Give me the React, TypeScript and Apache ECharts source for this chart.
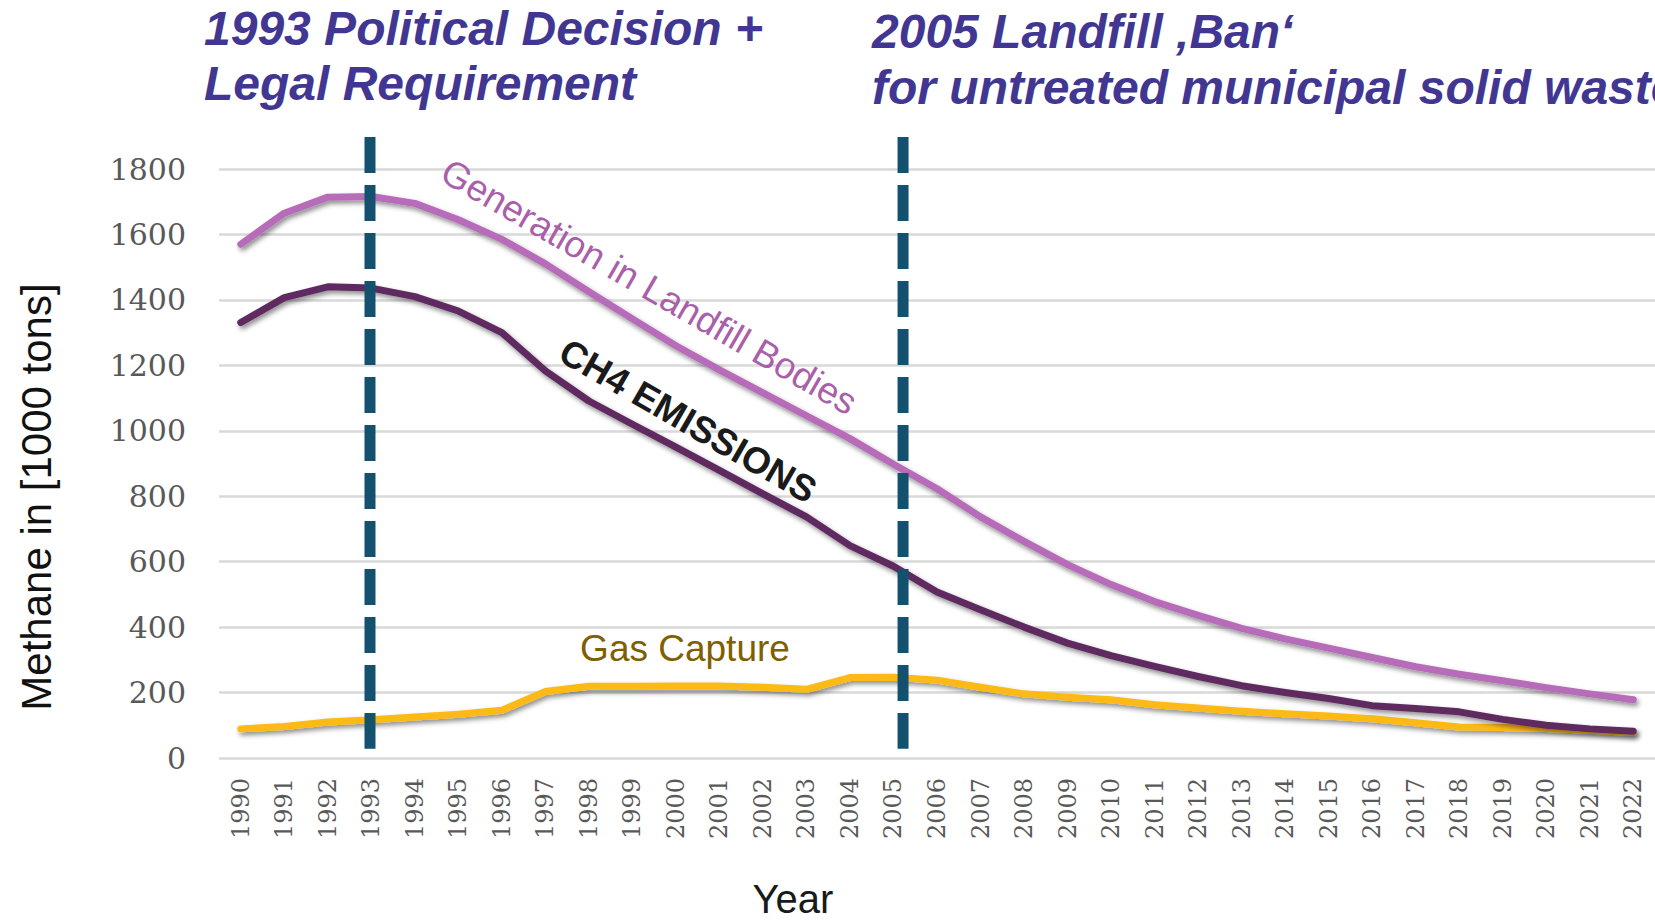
import React, { useEffect, useRef } from 'react';
import * as echarts from 'echarts';

const years = [
  '1990', '1991', '1992', '1993', '1994', '1995', '1996', '1997', '1998', '1999',
  '2000', '2001', '2002', '2003', '2004', '2005', '2006', '2007', '2008', '2009',
  '2010', '2011', '2012', '2013', '2014', '2015', '2016', '2017', '2018', '2019',
  '2020', '2021', '2022',
];

const generation = [
  1570, 1665, 1714, 1716, 1695, 1645, 1585, 1510, 1425, 1342,
  1260, 1186, 1116, 1046, 976, 898, 823, 737, 662, 591,
  530, 478, 436, 396, 364, 336, 307, 279, 256, 236,
  215, 196, 178,
];

const ch4Emissions = [
  1331, 1407, 1440, 1436, 1410, 1366, 1300, 1183, 1091, 1020,
  950, 879, 807, 737, 649, 586, 507, 453, 400, 351,
  313, 280, 249, 221, 200, 182, 160, 151, 141, 118,
  100, 89, 82,
];

const gasCapture = [
  89, 96, 110, 117, 125, 134, 146, 203, 219, 219,
  220, 220, 216, 210, 246, 247, 238, 216, 196, 186,
  178, 163, 153, 143, 135, 128, 120, 108, 95, 93,
  90, 85, 78,
];

const yMin = 0;
const yMax = 1800;
const yInterval = 200;

// Policy milestones marked by dashed vertical lines: [year, top value, bottom value]
const milestones: [string, number, number][] = [
  ['1993', 1898, 28],
  ['2005', 1898, 28],
];
const milestoneNudge = [-0.03, 0.22]; // fraction of a category band

const titleLeft = ['1993 Political Decision +', 'Legal Requirement'];
const titleRight = ['2005 Landfill \u201ABan\u2018', 'for untreated municipal solid waste'];

export default function App() {
  const ref = useRef<HTMLDivElement>(null);

  useEffect(() => {
    document.body.style.margin = '0';
    const chart = echarts.init(ref.current as HTMLDivElement, null, { renderer: 'svg' });

    const shadow = {
      shadowColor: 'rgba(0,0,0,0.45)',
      shadowBlur: 5,
      shadowOffsetX: 2,
      shadowOffsetY: 3,
    };

    const titleFont = {
      fontFamily: '"Liberation Sans", Arial, sans-serif',
      fontSize: 48,
      fontWeight: 'bold',
      fontStyle: 'italic',
      fill: '#413793',
      verticalAlign: 'middle',
      align: 'left',
    };

    const option: any = {
      animation: false,
      backgroundColor: '#ffffff',
      grid: { left: 219, right: 0, top: 169, bottom: 163, containLabel: false },
      xAxis: {
        type: 'category',
        data: years,
        boundaryGap: true,
        axisLine: { show: false },
        axisTick: { show: false },
        axisLabel: {
          interval: 0,
          rotate: 90,
          margin: 20,
          color: '#595959',
          fontFamily: '"DejaVu Serif", serif',
          fontSize: 24,
        },
        splitLine: { show: false },
      },
      yAxis: {
        type: 'value',
        min: yMin,
        max: yMax,
        interval: yInterval,
        axisLine: { show: false },
        axisTick: { show: false },
        axisLabel: {
          margin: 33,
          color: '#595959',
          fontFamily: '"DejaVu Serif", serif',
          fontSize: 30,
          formatter: (v: number) => String(v),
        },
        splitLine: { lineStyle: { color: '#D9D9D9', width: 2.5 } },
      },
      series: [
        {
          name: 'Gas Capture',
          type: 'line',
          data: gasCapture,
          showSymbol: false,
          z: 2,
          lineStyle: { color: '#FDB913', width: 7, cap: 'round', join: 'round', ...shadow },
        },
        {
          name: 'Generation in Landfill Bodies',
          type: 'line',
          data: generation,
          showSymbol: false,
          z: 3,
          lineStyle: { color: '#B76CB9', width: 7, cap: 'round', join: 'round', ...shadow },
        },
        {
          name: 'CH4 Emissions',
          type: 'line',
          data: ch4Emissions,
          showSymbol: false,
          z: 4,
          lineStyle: { color: '#5E2B61', width: 7, cap: 'round', join: 'round', ...shadow },
        },
        {
          name: 'Milestones',
          type: 'custom',
          clip: false,
          silent: true,
          z: 10,
          data: milestones,
          encode: { x: 0, y: [1, 2] },
          renderItem: (params: any, api: any) => {
            const top = api.coord([api.value(0), api.value(1)]);
            const bottom = api.coord([api.value(0), api.value(2)]);
            const band = api.size([1, 0])[0];
            const x = top[0] + band * (milestoneNudge[params.dataIndex] || 0);
            return {
              type: 'line',
              shape: { x1: x, y1: top[1], x2: x, y2: bottom[1] },
              style: { stroke: '#14516F', lineWidth: 11, lineDash: [36, 12], fill: null },
            };
          },
        },
      ],
      graphic: [
        { type: 'text', x: 204, y: 28, style: { ...titleFont, text: titleLeft[0] } },
        { type: 'text', x: 204, y: 83, style: { ...titleFont, text: titleLeft[1] } },
        { type: 'text', x: 872, y: 31, style: { ...titleFont, text: titleRight[0] } },
        { type: 'text', x: 872, y: 87, style: { ...titleFont, text: titleRight[1] } },
        {
          type: 'text',
          x: 36,
          y: 497,
          rotation: Math.PI / 2,
          style: {
            text: 'Methane in [1000 tons]',
            fontFamily: '"Liberation Sans", Arial, sans-serif',
            fontSize: 42,
            fill: '#111111',
            align: 'center',
            verticalAlign: 'middle',
          },
        },
        {
          type: 'text',
          x: 793,
          y: 899,
          style: {
            text: 'Year',
            fontFamily: '"Liberation Sans", Arial, sans-serif',
            fontSize: 40,
            fill: '#1a1a1a',
            align: 'center',
            verticalAlign: 'middle',
          },
        },
        {
          type: 'text',
          x: 649,
          y: 287,
          rotation: -Math.PI / 6,
          z: 20,
          style: {
            text: 'Generation in Landfill Bodies',
            fontFamily: '"Liberation Sans", Arial, sans-serif',
            fontSize: 37,
            fill: '#A95FA9',
            align: 'center',
            verticalAlign: 'middle',
          },
        },
        {
          type: 'text',
          x: 688,
          y: 421,
          rotation: -Math.PI / 6,
          z: 20,
          style: {
            text: 'CH4 EMISSIONS',
            fontFamily: '"Liberation Sans", Arial, sans-serif',
            fontSize: 37,
            fontWeight: 'bold',
            fill: '#1a1a1a',
            align: 'center',
            verticalAlign: 'middle',
          },
        },
        {
          type: 'text',
          x: 685,
          y: 648,
          z: 20,
          style: {
            text: 'Gas Capture',
            fontFamily: '"Liberation Sans", Arial, sans-serif',
            fontSize: 37,
            fill: '#7F6000',
            align: 'center',
            verticalAlign: 'middle',
          },
        },
      ],
    };

    chart.setOption(option);
    return () => chart.dispose();
  }, []);

  return <div ref={ref} style={{ width: 1655, height: 921 }} />;
}
